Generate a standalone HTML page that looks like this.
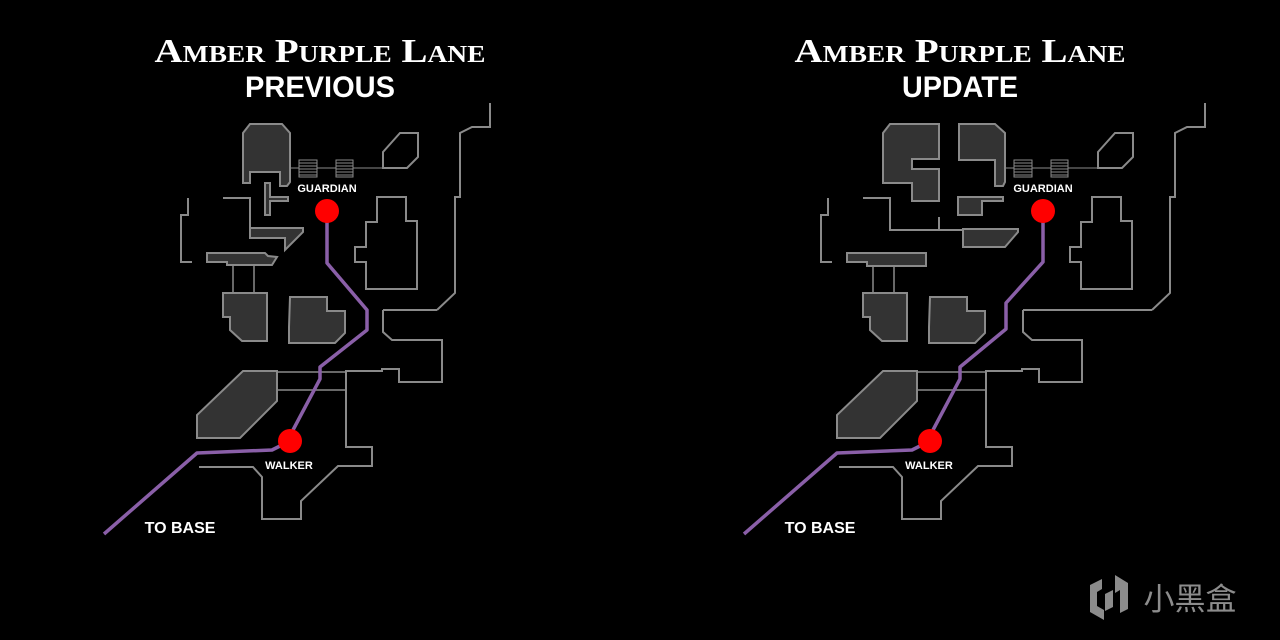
<!DOCTYPE html>
<html><head><meta charset="utf-8"><style>
html,body{margin:0;padding:0;background:#000;}
svg{display:block;}
</style></head><body>
<svg width="1280" height="640" viewBox="0 0 1280 640" xmlns="http://www.w3.org/2000/svg">
<rect width="1280" height="640" fill="#000"/>
<defs>
<g id="top" fill="none" stroke="#8a8a8a" stroke-width="2">
  <g stroke-width="1">
    <rect x="299" y="160" width="18" height="17" fill="#000"/>
    <path d="M299 163H317M299 166H317M299 169H317M299 172H317M299 175H317"/>
    <rect x="336" y="160" width="17" height="17" fill="#000"/>
    <path d="M336 163H353M336 166H353M336 169H353M336 172H353M336 175H353"/>
    <path d="M290 168H299M317 168H336M353 168H383"/>
  </g>
  <polygon points="383,152 400,133 418,133 418,157 407,168 383,168"/>
  <polyline points="490,103 490,127 472,127 460,133 460,197 455,197 455,293 437,310"/>
  <polygon points="377,197 406,197 406,221 417,221 417,289 366,289 366,262 355,262 355,247 366,247 366,222 377,222"/>
</g>
<g id="bottom" fill="none" stroke="#8a8a8a" stroke-width="2">
  <polyline points="383,310 383,332 392,340 442,340 442,382 399,382 399,369 382,369 382,371 346,371 346,447 372,447 372,466 338,466 301,501 301,519 262,519 262,477 253,467 199,467"/>
  <polyline points="188,198 188,215 181,215 181,262 192,262"/>
  <path d="M233 265V293M254 265V293" stroke-width="1.5"/>
  <polygon fill="#333" points="223,293 267,293 267,341 242,341 230,330 230,317 223,317"/>
  <polygon fill="#333" points="290,297 327,297 327,311 345,311 345,333 335,343 289,343 289,327"/>
  <polygon fill="#333" points="243,371 277,371 277,401 240,438 197,438 197,415"/>
  <path d="M277 372H346M277 390H346" stroke-width="1.5"/>
</g>
</defs>

<!-- LEFT -->
<use href="#top"/>
<use href="#bottom"/>
<path d="M437 310H383M223 198H250V228" fill="none" stroke="#8a8a8a" stroke-width="2"/>
<g fill="#333" stroke="#8a8a8a" stroke-width="2">
  <polygon points="243,133 250,124 282,124 290,133 290,182 287,186 280,186 280,172 250,172 250,183 243,183"/>
  <polygon points="265,183 270,183 270,197 288,197 288,201 270,201 270,215 265,215"/>
  <polygon points="250,228 303,228 303,232 285,250 285,238 250,238"/>
  <polygon points="207,253 265,253 268,256 277,257 272,265 227,265 227,262 207,262"/>
</g>
<polyline fill="none" stroke="#8a5fa8" stroke-width="3.5" stroke-linejoin="round" points="327,222 327,263 367,310 367,330 320,367 320,379 293,430"/>
<polyline fill="none" stroke="#8a5fa8" stroke-width="3.5" stroke-linejoin="round" points="280,446 272,450 197,453 104,534"/>
<circle cx="327" cy="211" r="12" fill="#f00"/>
<circle cx="290" cy="441" r="12" fill="#f00"/>

<!-- RIGHT -->
<g transform="translate(715,0)"><use href="#top"/></g>
<g transform="translate(640,0)"><use href="#bottom"/></g>
<path d="M1152 310H1023M863 198H890V230H963M939 217V229" fill="none" stroke="#8a8a8a" stroke-width="2"/>
<g fill="#333" stroke="#8a8a8a" stroke-width="2">
  <polygon points="883,133 890,124 939,124 939,159 912,159 912,169 939,169 939,201 912,201 912,183 883,183"/>
  <polygon points="959,124 995,124 1005,133 1005,182 1003,186 995,186 995,160 959,160"/>
  <polygon points="958,197 1003,197 1003,201 982,201 982,215 958,215"/>
  <polygon points="963,229 1018,229 1018,232 1005,247 963,247"/>
  <polygon points="847,253 926,253 926,266 867,266 867,262 847,262"/>
</g>
<polyline fill="none" stroke="#8a5fa8" stroke-width="3.5" stroke-linejoin="round" points="1043,222 1043,262 1006,303 1006,329 960,367 960,379 933,430"/>
<polyline fill="none" stroke="#8a5fa8" stroke-width="3.5" stroke-linejoin="round" points="920,446 912,450 837,453 744,534"/>
<circle cx="1043" cy="211" r="12" fill="#f00"/>
<circle cx="930" cy="441" r="12" fill="#f00"/>

<!-- labels -->
<g fill="#fff" font-family="Liberation Sans, sans-serif" font-weight="bold" text-anchor="middle">
  <text x="327" y="192" font-size="11">GUARDIAN</text>
  <text x="289" y="469" font-size="11">WALKER</text>
  <text x="180" y="533" font-size="16">TO BASE</text>
  <text x="1043" y="192" font-size="11">GUARDIAN</text>
  <text x="929" y="469" font-size="11">WALKER</text>
  <text x="820" y="533" font-size="16">TO BASE</text>
  <g font-family="Liberation Serif, serif" font-size="34" style="font-variant:small-caps">
    <text x="320" y="62" textLength="331" lengthAdjust="spacingAndGlyphs">Amber Purple Lane</text>
    <text x="960" y="62" textLength="331" lengthAdjust="spacingAndGlyphs">Amber Purple Lane</text>
  </g>
  <text x="320" y="97" font-size="30" textLength="150" lengthAdjust="spacingAndGlyphs">PREVIOUS</text>
  <text x="960" y="97" font-size="30" textLength="116" lengthAdjust="spacingAndGlyphs">UPDATE</text>
</g>

<!-- watermark -->
<g fill="#8c8c8c">
  <path d="M1090 585 L1102 579 L1102 589 L1097 592 L1097 606 L1104 610 L1104 620 L1090 612 Z"/>
  <path d="M1105 594 L1113 590 L1113 607 L1105 611 Z"/>
  <path d="M1115 575 L1128 583 L1128 609 L1120 613 L1120 590 L1115 593 Z"/>
  <text x="1190" y="610" font-family="Noto Sans CJK SC, sans-serif" font-size="31" text-anchor="middle">小黑盒</text>
</g>
</svg>
</body></html>
